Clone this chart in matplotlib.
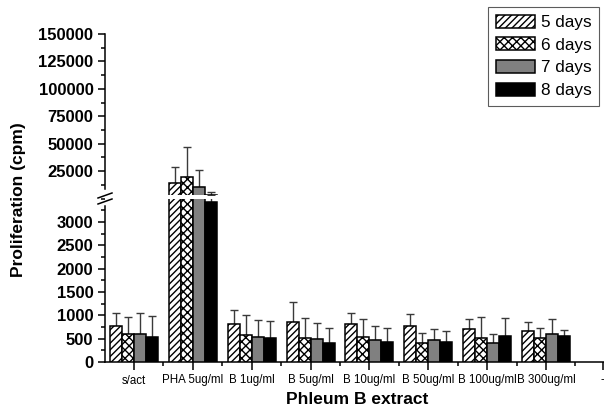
import numpy as np
import matplotlib
matplotlib.use("Agg")
import matplotlib.pyplot as plt
from matplotlib.lines import Line2D
from matplotlib.ticker import MultipleLocator

plt.rcParams['font.family'] = ['Liberation Sans', 'DejaVu Sans']
plt.rcParams['hatch.linewidth'] = 1.0

categories = ['s/act', 'PHA 5ug/ml', 'B 1ug/ml', 'B 5ug/ml', 'B 10ug/ml',
              'B 50ug/ml', 'B 100ug/ml', 'B 300ug/ml']
tick_labels = categories + ['-']
series_names = ['5 days', '6 days', '7 days', '8 days']

days5 = [770, 13800, 810, 850, 810, 780, 710, 665]
days6 = [605, 19250, 570, 520, 530, 400, 515, 505]
days7 = [600, 10700, 545, 485, 470, 480, 415, 595]
days8 = [545, 3435, 505, 415, 430, 435, 550, 555]

err5 = [285, 15100, 310, 435, 245, 255, 220, 185]
err6 = [350, 27350, 430, 430, 385, 220, 440, 215]
err7 = [455, 15200, 360, 350, 300, 235, 190, 320]
err8 = [450, 2365, 380, 305, 290, 220, 385, 125]

values = [days5, days6, days7, days8]
errors = [err5, err6, err7, err8]
colors = ['white', 'white', '#808080', 'black']
hatches = ['/////', 'xxxx', None, None]

fig = plt.figure(figsize=(6.04, 4.12), dpi=100)
W, H = 604.0, 412.0
left = 104.6 / W
width = 8.5 * 58.86 / W
ax_lo = fig.add_axes([left, 1 - 362 / H, width, (362 - 198.7) / H])
ax_hi = fig.add_axes([left, 1 - 194.6 / H, width, (194.6 - 34) / H])

x = np.arange(len(categories))
bw = 0.204
for ax in (ax_lo, ax_hi):
    for i in range(4):
        pos = x + (i - 1.5) * bw
        ax.bar(pos, values[i], bw, color=colors[i], edgecolor='black',
               linewidth=1.1, hatch=hatches[i], label=series_names[i], zorder=3)
        ax.errorbar(pos, values[i], yerr=[np.zeros(len(x)), errors[i]], fmt='none',
                    ecolor='#3a3a3a', elinewidth=1, capsize=2.6, capthick=1, zorder=2)
    ax.set_xlim(-0.5, 8.0)
    for s in ('top', 'right'):
        ax.spines[s].set_visible(False)
    ax.spines['left'].set_linewidth(1.1)
    ax.spines['bottom'].set_linewidth(1.1)
    ax.tick_params(axis='y', which='major', length=5, width=1.1, labelsize=12, pad=3)
    ax.tick_params(axis='y', which='minor', length=3, width=1.1)

ax_lo.set_ylim(0, 3500)
ax_lo.spines['left'].set_bounds(0, 3340)
ax_lo.yaxis.set_minor_locator(MultipleLocator(250))
ax_lo.set_yticks(np.arange(0, 3001, 500))
ax_lo.set_xticks(np.r_[x, len(categories) - 0.04])
ax_lo.set_xticklabels(tick_labels, fontsize=8.3)
ax_lo.set_xticks(np.arange(len(categories)) + 0.5, minor=True)
ax_lo.tick_params(axis='x', which='major', length=6, width=1.1, pad=3)
ax_lo.tick_params(axis='x', which='minor', length=3, width=1.1)
for lab in ax_lo.get_yticklabels():
    lab.set_fontweight('bold')

ax_hi.set_ylim(3500, 150000)
ax_hi.spines['left'].set_bounds(8600, 150000)
ax_hi.set_yticks(np.arange(25000, 150001, 25000))
ax_hi.yaxis.set_minor_locator(MultipleLocator(12500))
ax_hi.spines['bottom'].set_visible(False)
ax_hi.tick_params(axis='x', which='both', bottom=False, labelbottom=False)
for lab in ax_hi.get_yticklabels():
    lab.set_fontweight('bold')

# break marks on the y axis
for yy in (195.5, 201.5):
    fig.add_artist(Line2D([98 / W, 112 / W], [1 - (yy + 2.5) / H, 1 - (yy - 2.5) / H],
                          color='black', lw=1.1))

fig.text(19 / W, 1 - 200 / H, 'Proliferation (cpm)', rotation=90, ha='center',
         va='center', fontsize=12.5, fontweight='bold')
fig.text(357 / W, 1 - 399 / H, 'Phleum B extract', ha='center', va='center',
         fontsize=12.5, fontweight='bold')

handles, labels = ax_hi.get_legend_handles_labels()
leg = fig.legend(handles, labels, loc='upper right', bbox_to_anchor=(599 / W, 1 - 7 / H),
                 fontsize=12.3, frameon=True, fancybox=False, handlelength=2.3,
                 handleheight=0.8, labelspacing=0.42, handletextpad=0.3,
                 borderpad=0.45, borderaxespad=0)
leg.get_frame().set_edgecolor('#333333')
leg.get_frame().set_linewidth(0.8)

fig.savefig('out.png', dpi=100)
